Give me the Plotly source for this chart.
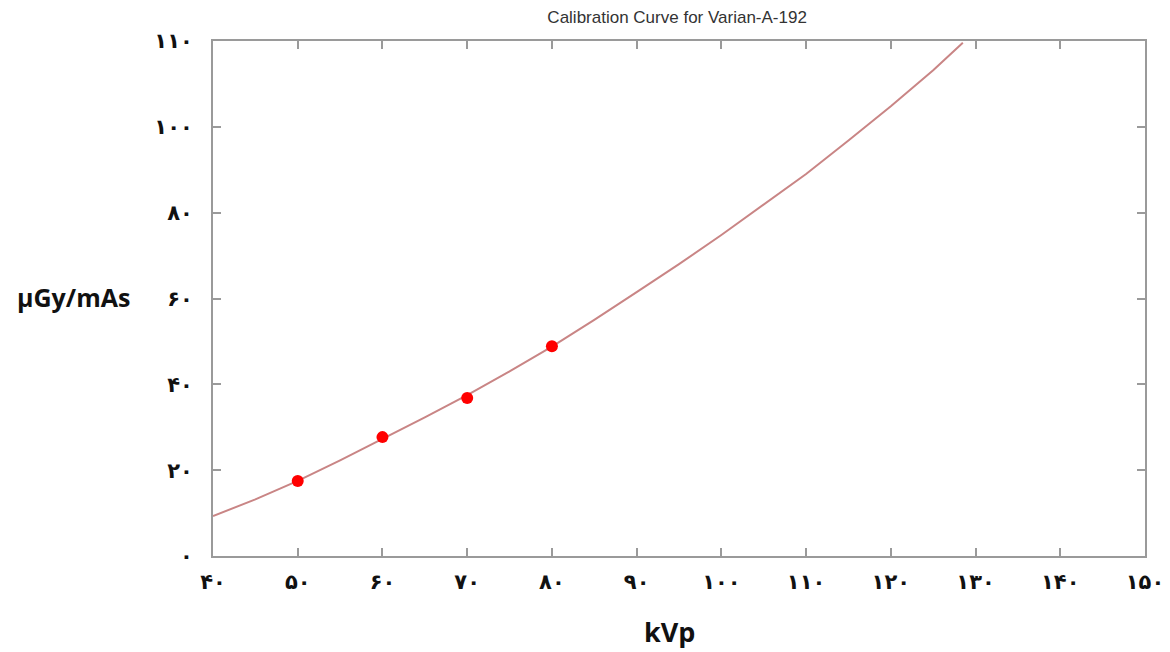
import plotly.graph_objects as go

# Measured calibration points
kvp_points = [50, 60, 70, 80]
dose_points = [17.5, 27.7, 36.8, 48.9]

# Fitted calibration curve
kvp_curve = [40, 45, 50, 55, 60, 65, 70, 75, 80, 85, 90, 95, 100, 105, 110, 115, 120, 125, 128.5]
dose_curve = [9.3, 13.2, 17.5, 22.3, 27.3, 32.3, 37.5, 43.0, 48.8, 55.0, 61.5, 68.0, 74.8, 81.8, 89.0, 96.8, 104.8, 113.2, 119.6]

x_tickvals = [40, 50, 60, 70, 80, 90, 100, 110, 120, 130, 140, 150]
x_ticktext = ["۴۰", "۵۰", "۶۰", "۷۰", "۸۰", "۹۰", "۱۰۰", "۱۱۰", "۱۲۰", "۱۳۰", "۱۴۰", "۱۵۰"]
y_tickvals = [0, 20, 40, 60, 80, 100, 120]
y_ticktext = ["۰", "۲۰", "۴۰", "۶۰", "۸۰", "۱۰۰", "۱۱۰"]

fig = go.Figure()
fig.add_trace(go.Scatter(
    x=kvp_curve, y=dose_curve, mode="lines",
    line=dict(color="#c98585", width=2), hoverinfo="skip", showlegend=False))
fig.add_trace(go.Scatter(
    x=kvp_points, y=dose_points, mode="markers",
    marker=dict(color="#ff0000", size=12, symbol="circle"),
    showlegend=False))

tickfont = dict(family="DejaVu Sans", size=21, color="#111111", weight="bold")
fig.update_layout(
    width=1162, height=644,
    paper_bgcolor="white", plot_bgcolor="white",
    margin=dict(l=205, r=25, t=33, b=96, autoexpand=False),
    title=dict(text="Calibration Curve for Varian-A-192",
               x=0.498, xanchor="center", y=0.986, yanchor="middle", xref="paper",
               font=dict(family="Liberation Sans", size=17, color="#333333")),
    xaxis=dict(range=[40, 150], tickvals=x_tickvals, ticktext=x_ticktext, automargin=False,
               showgrid=False, zeroline=False, showline=True, linecolor="#9a9a9a", linewidth=2,
               mirror="ticks", ticks="inside", ticklen=8, tickcolor="#9a9a9a", tickwidth=2,
               tickfont=tickfont, ticklabelstandoff=6),
    yaxis=dict(range=[0, 120], tickvals=y_tickvals, ticktext=y_ticktext, automargin=False,
               showgrid=False, zeroline=False, showline=True, linecolor="#9a9a9a", linewidth=2,
               mirror="ticks", ticks="inside", ticklen=8, tickcolor="#9a9a9a", tickwidth=2,
               tickfont=tickfont, ticklabelstandoff=14),
    annotations=[
        dict(text="μGy/mAs", xref="paper", yref="paper", x=-0.087, y=0.503,
             xanchor="right", yanchor="middle", showarrow=False,
             font=dict(family="Open Sans", size=25, color="#111111", weight="bold")),
        dict(text="kVp", xref="paper", yref="paper", x=0.49, y=-0.147,
             xanchor="center", yanchor="middle", showarrow=False,
             font=dict(family="Open Sans", size=27, color="#111111", weight="bold")),
    ],
)

fig.write_html("out.html")
